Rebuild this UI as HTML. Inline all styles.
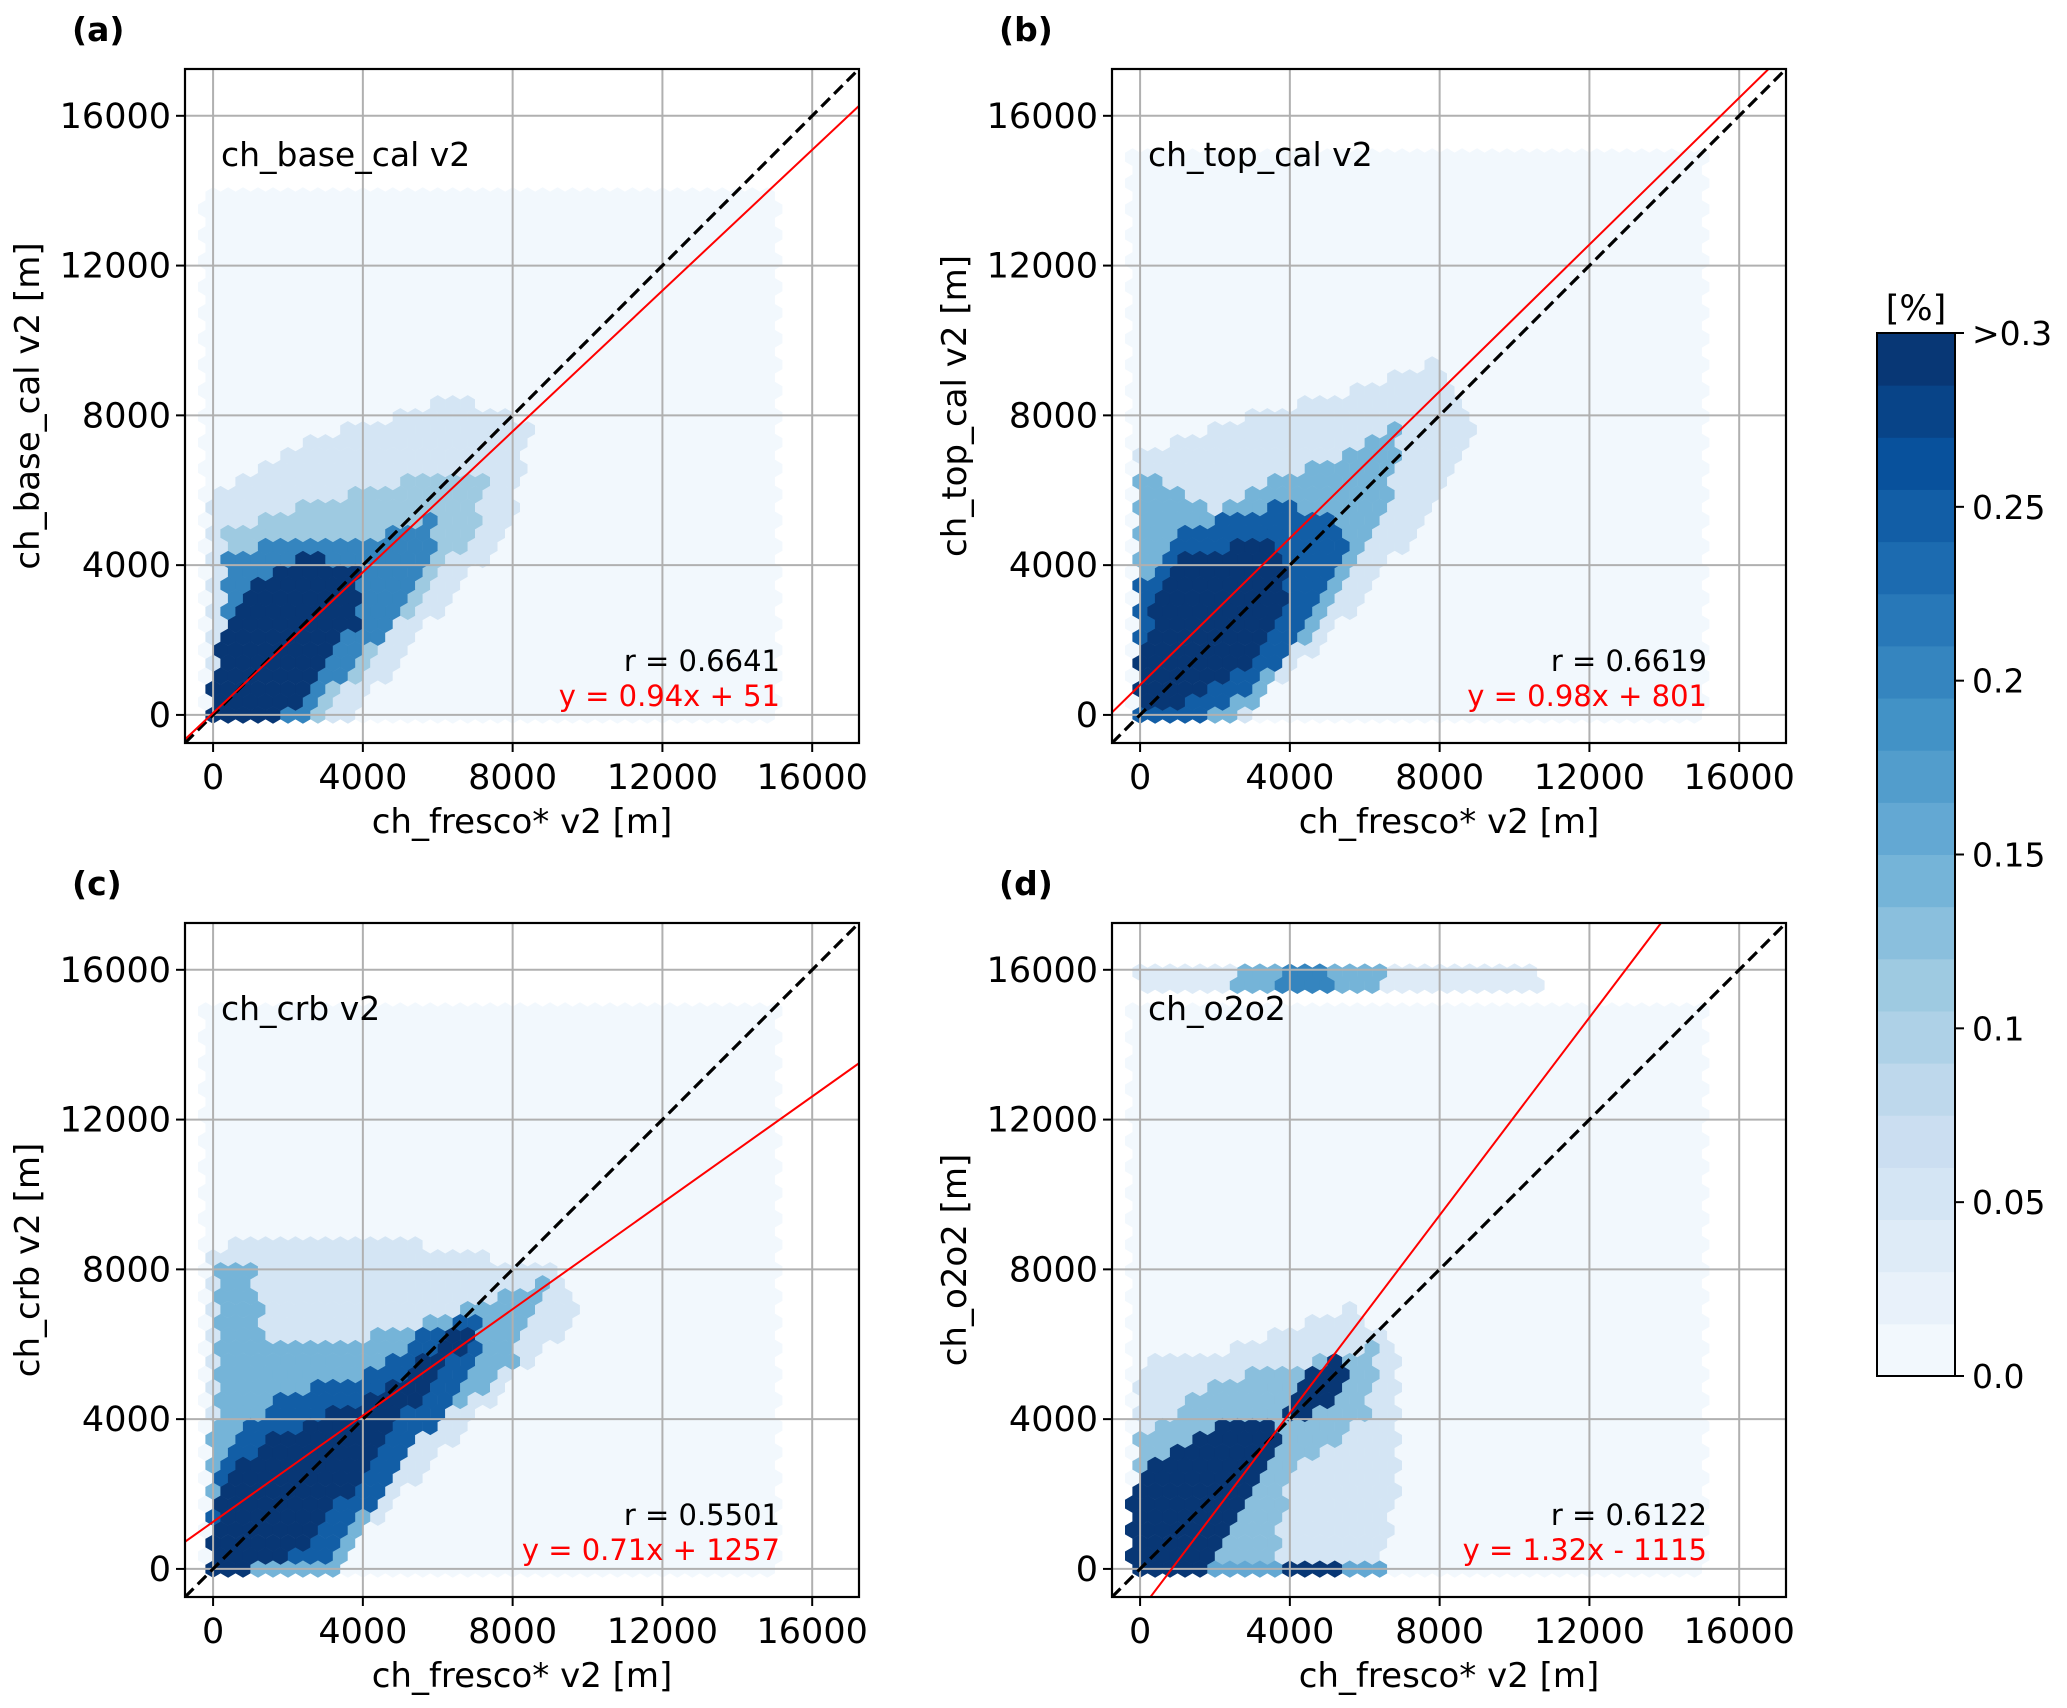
<!DOCTYPE html>
<html><head><meta charset="utf-8">
<style>
html,body{margin:0;padding:0;background:#fff;}
svg{display:block;font-family:"DejaVu Sans","Liberation Sans",sans-serif;}
</style></head>
<body>
<svg id="fig" width="2067" height="1708" viewBox="0 0 2067 1708" xmlns="http://www.w3.org/2000/svg"></svg>
<script>
// ---- data ----
const xTicks = [0, 4000, 8000, 12000, 16000];
const yTicks = [0, 4000, 8000, 12000, 16000];
const panelLetters = ["(a)", "(b)", "(c)", "(d)"];
const panelNames = ["ch_base_cal v2", "ch_top_cal v2", "ch_crb v2", "ch_o2o2"];
const yLabels = ["ch_base_cal v2 [m]", "ch_top_cal v2 [m]", "ch_crb v2 [m]", "ch_o2o2 [m]"];
const rValues = ["0.6641", "0.6619", "0.5501", "0.6122"];
const slopes = [0.94, 0.98, 0.71, 1.32];
const intercepts = [51, 801, 1257, -1115];
const cbTickValues = [0.0, 0.05, 0.1, 0.15, 0.2, 0.25, 0.3];
const cbTickLabels = ["0.0", "0.05", "0.1", "0.15", "0.2", "0.25", ">0.3"];
// density regions per panel: [level(%), polygon in data units]
const densA = [
 [0.004, [[-300,-300],[15200,-300],[15200,14200],[-300,14200]]],
 [0.012, [[0,-300],[0,6500],[3000,8500],[5500,10500],[9000,10000],[11000,8500],[11000,4000],[8000,1500],[6000,-300]]],
 [0.045, [[0,-300],[0,6000],[3000,7500],[6500,8500],[8500,7800],[8000,5000],[5000,1500],[3500,-300]]],
 [0.11, [[300,-200],[300,5000],[3000,5700],[6000,6500],[7500,6500],[7000,5000],[4500,1800],[2800,-200]]],
 [0.2, [[200,-200],[300,4200],[2000,4800],[4000,4700],[6000,5300],[6000,4300],[4000,1500],[2300,-200]]],
 [0.3, [[-200,-300],[300,2500],[1200,3700],[2600,4300],[3800,4000],[3900,2500],[2800,1000],[1700,-300]]]
];
const densB = [
 [0.004, [[-300,-300],[15200,-300],[15200,15200],[-300,15200]]],
 [0.012, [[0,-300],[0,7500],[3000,10500],[9000,11000],[11000,9500],[10000,6000],[6000,2000],[3000,-300]]],
 [0.045, [[0,-300],[0,7000],[3000,8000],[5000,8500],[8000,9500],[9000,7500],[7500,5000],[5000,2000],[2500,-300]]],
 [0.14, [[-200,0],[0,6500],[2000,5500],[4000,6500],[5800,7000],[7000,8000],[6500,5000],[4000,1500],[2500,-300]]],
 [0.25, [[-200,0],[0,3500],[1000,5000],[3500,5600],[5000,5500],[5500,4500],[4000,1500],[2000,0]]],
 [0.3, [[0,300],[0,1500],[500,3500],[1000,4200],[3500,4700],[4000,4000],[3700,2500],[2500,1000],[1000,200]]]
];
const densC = [
 [0.004, [[-300,-300],[15200,-300],[15200,15200],[-300,15200]]],
 [0.012, [[-200,-300],[0,9200],[4000,9200],[9000,9000],[11000,8000],[11000,6000],[8000,3000],[5000,-300]]],
 [0.045, [[-200,-300],[0,8500],[1000,9000],[4000,9000],[9000,8000],[10000,7000],[8000,5000],[5000,2000],[3000,-300]]],
 [0.14, [[-200,0],[200,8000],[1000,8000],[1500,6000],[3000,6000],[5500,6500],[8000,7500],[9000,7800],[8000,5500],[5000,3000],[3500,0]]],
 [0.25, [[-200,0],[200,3000],[1500,4500],[4000,5200],[6000,6500],[7500,6800],[6000,4000],[4500,2000],[3000,300]]],
 [0.3, [[-200,0],[300,2500],[1500,3500],[3500,4300],[5000,5000],[6500,6500],[7000,6300],[5000,4000],[4000,2500],[2500,700],[1000,-100]]]
];
const densD = [
 [0.004, [[-300,-300],[15200,-300],[15200,15200],[-300,15200]]],
 [0.012, [[-200,-300],[0,7000],[3000,8500],[5000,10500],[6000,11000],[7000,8000],[9500,6500],[9500,-300]]],
 [0.045, [[-200,-300],[0,5500],[3000,6000],[5500,7000],[7000,6000],[7000,3000],[6500,-300]]],
 [0.13, [[-200,0],[0,3500],[2000,5000],[4500,5500],[6500,6000],[6000,4000],[4000,2500],[3500,0]]],
 [0.3, [[-200,-200],[-200,2300],[800,3200],[2000,3800],[3500,4000],[3800,3500],[3000,2000],[2500,1000],[2000,400],[1500,-200]]],
 [0.3, [[3800,4000],[4500,5200],[5300,5600],[5600,5000],[4800,4200]]],
 [0.15, [[0,-300],[0,300],[6500,300],[6500,-300]]],
 [0.3, [[3800,-300],[3800,300],[5500,300],[5500,-300]]],
 [0.04, [[0,15400],[10800,15400],[10800,16000],[0,16000]]],
 [0.14, [[2500,15400],[6500,15400],[6500,16000],[2500,16000]]],
 [0.2, [[3800,15400],[5200,15400],[5200,16000],[3800,16000]]]
];
const densities = [densA, densB, densC, densD];

// ---- layout ----
const NS = "http://www.w3.org/2000/svg";
const svg = document.getElementById("fig");
const AX_W = 674, AX_H = 674, DMIN = -750, DMAX = 17250;
const origins = [[185,69],[1112,69],[185,923],[1112,923]];
const blues = ["#f7fbff","#deebf7","#c6dbef","#9ecae1","#6baed6","#4292c6","#2171b5","#08519c","#08306b"];
function hex2rgb(h){return [1,3,5].map(i=>parseInt(h.substr(i,2),16));}
function colorAt(t){t=Math.max(0,Math.min(1,t));const p=t*(blues.length-1);const i=Math.min(Math.floor(p),blues.length-2);const f=p-i;const a=hex2rgb(blues[i]),b=hex2rgb(blues[i+1]);return "rgb("+a.map((v,k)=>Math.round(v+(b[k]-v)*f)).join(",")+")";}
function levelColor(v){const idx=Math.min(19,Math.floor(v/0.015));return colorAt((idx+0.5)/20);}
function mk(tag,attrs,parent){const e=document.createElementNS(NS,tag);for(const k in attrs)e.setAttribute(k,attrs[k]);(parent||svg).appendChild(e);return e;}
function inPoly(x,y,poly){let c=false;for(let i=0,j=poly.length-1;i<poly.length;j=i++){const xi=poly[i][0],yi=poly[i][1],xj=poly[j][0],yj=poly[j][1];if(((yi>y)!==(yj>y))&&(x<(xj-xi)*(y-yi)/(yj-yi)+xi))c=!c;}return c;}

for(let p=0;p<4;p++){
  const [ox,oy]=origins[p];
  const sx=v=>ox+(v-DMIN)/(DMAX-DMIN)*AX_W;
  const sy=v=>oy+AX_H-(v-DMIN)/(DMAX-DMIN)*AX_H;
  const g=mk("g",{});
  
  
  const clipId="clip"+p;
  const cp=mk("clipPath",{id:clipId},g);
  mk("rect",{x:ox,y:oy,width:AX_W,height:AX_H},cp);
  const hexG=mk("g",{"clip-path":"url(#"+clipId+")"},g);
  
  
  const dxU=400, pxPerU=AX_W/(DMAX-DMIN);
  const wPx=dxU*pxPerU, r=wPx/Math.sqrt(3);
  const dyU=1.5*r/(AX_H/(DMAX-DMIN));
  const dens=densities[p];
  for(let j=-1;j*dyU<16500;j++){
    for(let i=-1;i*dxU<15600;i++){
      const cx=i*dxU+(j%2?dxU/2:0), cy=j*dyU;
      let lvl=-1;
      for(const [v,poly] of dens){ if(inPoly(cx,cy,poly)&&v>lvl) lvl=v; }
      if(lvl<0) continue;
      const px=sx(cx), py=sy(cy);
      let pts=[];
      for(let k=0;k<6;k++){const a=Math.PI/180*(60*k-90);pts.push((px+r*1.02*Math.cos(a)).toFixed(1)+","+(py+r*1.02*Math.sin(a)).toFixed(1));}
      const h=mk("polygon",{points:pts.join(" "),fill:levelColor(lvl)},hexG);
      
      
    }
  }
  xTicks.forEach(t=>{const l=mk("line",{x1:sx(t),x2:sx(t),y1:oy,y2:oy+AX_H,stroke:"#b0b0b0","stroke-width":2},g);
    
    });
  yTicks.forEach(t=>{const l=mk("line",{x1:ox,x2:ox+AX_W,y1:sy(t),y2:sy(t),stroke:"#b0b0b0","stroke-width":2},g);
    
    });
  const lg=mk("g",{"clip-path":"url(#"+clipId+")"},g);
  const d1=mk("line",{x1:sx(DMIN),y1:sy(DMIN),x2:sx(DMAX),y2:sy(DMAX),stroke:"#000","stroke-width":3.2,"stroke-dasharray":"12,6"},lg);
  
  
  const rl=mk("line",{x1:sx(DMIN),y1:sy(slopes[p]*DMIN+intercepts[p]),x2:sx(DMAX),y2:sy(slopes[p]*DMAX+intercepts[p]),stroke:"#ff0000","stroke-width":2},lg);
  
  
  const fr=mk("rect",{x:ox,y:oy,width:AX_W,height:AX_H,fill:"none",stroke:"#000","stroke-width":2.2},g);
  
  
  xTicks.forEach(t=>{mk("line",{x1:sx(t),x2:sx(t),y1:oy+AX_H,y2:oy+AX_H+9,stroke:"#000","stroke-width":2},g);
    const tx=mk("text",{x:sx(t),y:oy+AX_H+46,"font-size":35,"text-anchor":"middle"},g);tx.textContent=t;
    
    });
  yTicks.forEach(t=>{mk("line",{x1:ox-9,x2:ox,y1:sy(t),y2:sy(t),stroke:"#000","stroke-width":2},g);
    const tx=mk("text",{x:ox-14,y:sy(t)+12,"font-size":35,"text-anchor":"end"},g);tx.textContent=t;
    
    });
  const xl=mk("text",{x:ox+AX_W/2,y:oy+AX_H+90,"font-size":34,"text-anchor":"middle"},g);xl.textContent="ch_fresco* v2 [m]";
  
  
  const ylx=ox-146, yly=oy+AX_H/2;
  const yl=mk("text",{x:ylx,y:yly,"font-size":34,"text-anchor":"middle",transform:"rotate(-90 "+ylx+" "+yly+")"},g);yl.textContent=yLabels[p];
  
  
  const pl=mk("text",{x:ox-113,y:oy-28,"font-size":33,"font-weight":"bold"},g);pl.textContent=panelLetters[p];
  
  
  const nm=mk("text",{x:ox+36,y:oy+97,"font-size":33},g);nm.textContent=panelNames[p];
  
  
  const rt=mk("text",{x:ox+595,y:oy+602,"font-size":29,"text-anchor":"end"},g);rt.textContent="r = "+rValues[p];
  
  
  const b=intercepts[p];
  const eq=mk("text",{x:ox+595,y:oy+637,"font-size":29,"text-anchor":"end",fill:"#ff0000"},g);
  eq.textContent="y = "+slopes[p].toFixed(2)+"x "+(b<0?"- ":"+ ")+Math.abs(b);
  
  
}

// ---- colorbar ----
const cbX=1877, cbW=78, cbTop=333, cbBot=1376;
const cb=mk("g",{});


const nb=20, bh=(cbBot-cbTop)/nb;
for(let i=0;i<nb;i++){
  const rc=mk("rect",{x:cbX,y:cbBot-(i+1)*bh,width:cbW,height:bh+0.5,fill:colorAt((i+0.5)/nb)},cb);
  
  
}
mk("rect",{x:cbX,y:cbTop,width:cbW,height:cbBot-cbTop,fill:"none",stroke:"#000","stroke-width":2},cb);
const cy=v=>cbBot-v/0.3*(cbBot-cbTop);
cbTickValues.forEach((v,i)=>{
  mk("line",{x1:cbX+cbW,x2:cbX+cbW+9,y1:cy(v),y2:cy(v),stroke:"#000","stroke-width":2},cb);
  const t=mk("text",{x:cbX+cbW+17,y:cy(v)+12,"font-size":33},cb);t.textContent=cbTickLabels[i];
  
  
});
const ct=mk("text",{x:cbX+cbW/2,y:320,"font-size":35,"text-anchor":"middle"},cb);ct.textContent="[%]";


</script>
</body></html>
